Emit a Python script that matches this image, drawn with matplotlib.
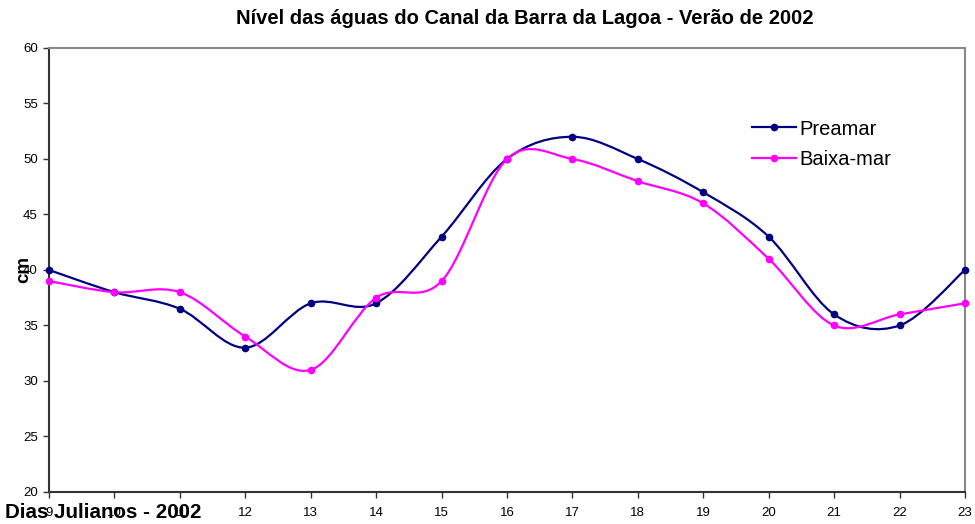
import matplotlib
matplotlib.use("Agg")
import matplotlib.pyplot as plt
from matplotlib.path import Path
from matplotlib.patches import PathPatch
from matplotlib.lines import Line2D

plt.rcParams['font.family'] = ['Liberation Sans', 'DejaVu Sans']

dias = [9, 10, 11, 12, 13, 14, 15, 16, 17, 18, 19, 20, 21, 22, 23]
preamar = [40, 38, 36.5, 33, 37, 37, 43, 50, 52, 50, 47, 43, 36, 35, 40]
baixa_mar = [39, 38, 38, 34, 31, 37.5, 39, 50, 50, 48, 46, 41, 35, 36, 37]
y_ticks = [20, 25, 30, 35, 40, 45, 50, 55, 60]

NAVY = '#000080'
MAGENTA = '#FF00FF'


def smooth_path(xs, ys):
    """Cubic Bezier path through the points (Catmull-Rom style control points)."""
    pts = list(zip(xs, ys))
    n = len(pts)
    verts = [pts[0]]
    codes = [Path.MOVETO]
    for i in range(n - 1):
        p0 = pts[i - 1] if i > 0 else pts[i]
        p1 = pts[i]
        p2 = pts[i + 1]
        p3 = pts[i + 2] if i + 2 < n else pts[i + 1]
        c1 = (p1[0] + (p2[0] - p0[0]) / 6.0, p1[1] + (p2[1] - p0[1]) / 6.0)
        c2 = (p2[0] - (p3[0] - p1[0]) / 6.0, p2[1] - (p3[1] - p1[1]) / 6.0)
        verts += [c1, c2, p2]
        codes += [Path.CURVE4] * 3
    return Path(verts, codes)


fig = plt.figure(figsize=(9.75, 5.24), dpi=100)
ax = fig.add_axes([0.0503, 0.0611, 0.9394, 0.8473])

for ys, col, lab in [(preamar, NAVY, 'Preamar'), (baixa_mar, MAGENTA, 'Baixa-mar')]:
    patch = PathPatch(smooth_path(dias, ys), facecolor='none', edgecolor=col,
                      linewidth=1.6, transform=ax.transData, zorder=3,
                      clip_on=False)
    ax.add_patch(patch)
    ax.plot(dias, ys, linestyle='none', marker='o', markersize=4.5,
            color=col, zorder=4, clip_on=False)

ax.set_xlim(9, 23)
ax.set_ylim(20, 60)
ax.set_xticks(dias)
ax.set_xticklabels([str(d) for d in dias])
ax.set_yticks(y_ticks)
ax.tick_params(axis='both', direction='out', length=4, width=1,
               labelsize=9.5, color='#333333')
ax.tick_params(axis='x', pad=6.5)
ax.tick_params(axis='y', pad=4)

for side in ['left', 'bottom']:
    ax.spines[side].set_color('#333333')
    ax.spines[side].set_linewidth(1.5)
for side in ['top', 'right']:
    ax.spines[side].set_color('#888888')
    ax.spines[side].set_linewidth(1.5)

fig.text(0.538, 0.965, 'Nível das águas do Canal da Barra da Lagoa - Verão de 2002',
         ha='center', va='center', fontsize=14.5, fontweight='bold')
fig.text(0.024, 0.485, 'cm', rotation=90, ha='center', va='center',
         fontsize=13.5, fontweight='bold')
fig.text(0.005, 0.021, 'Dias Julianos - 2002', ha='left', va='center',
         fontsize=14.8, fontweight='bold')

handles = [Line2D([], [], color=NAVY, lw=1.6, marker='o', markersize=4.5),
           Line2D([], [], color=MAGENTA, lw=1.6, marker='o', markersize=4.5)]
ax.legend(handles, ['Preamar', 'Baixa-mar'], loc='upper left',
          bbox_to_anchor=(0.7585, 0.857), frameon=False, fontsize=14.5,
          handlelength=2.2, handletextpad=0.15, labelspacing=0.58,
          borderaxespad=0)

fig.savefig('out.png', dpi=100)
